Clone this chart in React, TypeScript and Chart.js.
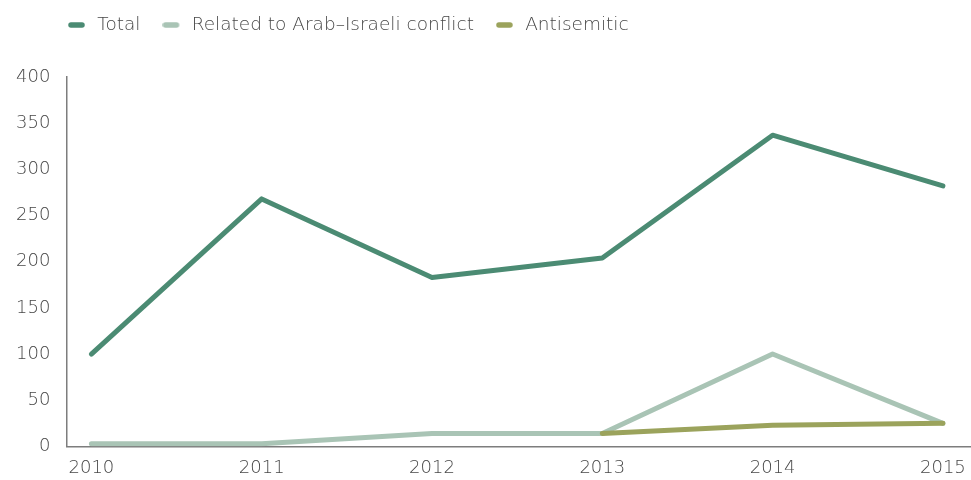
import React, { useEffect, useRef } from 'react';
import { Chart, registerables } from 'chart.js';

Chart.register(...registerables);

const years = [2010, 2011, 2012, 2013, 2014, 2015];
const total = [100, 268, 183, 204, 337, 282];
const related = [3, 3, 14, 14, 100, 25];
const antisemitic: (number | null)[] = [null, null, null, 14, 23, 25];
const seriesNames = ['Total', 'Related to Arab\u2013Israeli conflict', 'Antisemitic'];
const seriesColors = ['#4b8b73', '#a9c4b5', '#9ba35c'];

const FONT = '"DejaVu Sans", sans-serif';
const TEXT = '#474747';

const legendShift = {
  id: 'legendShift',
  afterLayout(chart: any) {
    const lg = chart.legend;
    if (!lg) return;
    const dx = 46 - lg.left;
    const dy = -6.25 - lg.top;
    lg.left += dx; lg.right += dx;
    lg.top += dy; lg.bottom += dy;
  },
};

function makeMarker(color: string) {
  const c = document.createElement('canvas');
  c.width = 20;
  c.height = 8;
  const g = c.getContext('2d')!;
  g.strokeStyle = color;
  g.lineWidth = 5.5;
  g.lineCap = 'round';
  g.beginPath();
  g.moveTo(3, 4);
  g.lineTo(14, 4);
  g.stroke();
  return c;
}

export default function App() {
  const ref = useRef<HTMLCanvasElement | null>(null);
  useEffect(() => {
    if (!ref.current) return;
    const pts = (arr: (number | null)[]) => years.map((y, i) => ({ x: y, y: arr[i] }));
    const common = { pointRadius: 0, borderWidth: 5, borderCapStyle: 'round', borderJoinStyle: 'round', tension: 0, fill: false };
    const tickFont = { family: FONT, size: 18, weight: '200' };
    const markers = seriesColors.map(makeMarker);
    const chart = new Chart(ref.current, {
      type: 'line',
      data: {
        datasets: [
          { label: seriesNames[0], data: pts(total), borderColor: seriesColors[0], backgroundColor: seriesColors[0], order: 0, pointStyle: markers[0], ...common } as any,
          { label: seriesNames[1], data: pts(related), borderColor: seriesColors[1], backgroundColor: seriesColors[1], order: 1, pointStyle: markers[1], ...common } as any,
          { label: seriesNames[2], data: pts(antisemitic), borderColor: seriesColors[2], backgroundColor: seriesColors[2], order: -1, pointStyle: markers[2], ...common } as any,
        ],
      },
      options: {
        animation: false,
        responsive: true,
        maintainAspectRatio: false,
        layout: { padding: { left: 0, right: 0, top: 26.5, bottom: -10 } },
        plugins: {
          tooltip: { enabled: false },
          legend: {
            position: 'top',
            align: 'start',
            labels: {
              usePointStyle: true,
              pointStyleWidth: 20,
              padding: 22,
              color: TEXT,
              font: { family: FONT, size: 18.5, weight: '200' },
              sort: (a: any, b: any) => a.datasetIndex - b.datasetIndex,
            },
          },
        },
        scales: {
          x: {
            type: 'linear',
            min: 2009.853,
            max: 2015.165,
            grid: { display: false, drawTicks: false },
            border: { display: true, color: '#7d7d7d', width: 1.5 },
            afterFit: (s: any) => { s.paddingRight = 0; s.paddingLeft = 0; },
            ticks: {
              stepSize: 1,
              includeBounds: false,
              padding: 11,
              color: TEXT,
              font: tickFont,
              callback: (v: any) => String(v),
              maxRotation: 0,
            },
          },
          y: {
            min: 0,
            max: 400,
            grid: { display: false, drawTicks: false },
            border: { display: true, color: '#7d7d7d', width: 1.5 },
            ticks: {
              stepSize: 50,
              padding: 16,
              color: TEXT,
              font: tickFont,
            },
          },
        },
      },
      plugins: [legendShift],
    } as any);
    return () => chart.destroy();
  }, []);
  return (
    <div style={{ position: 'absolute', left: 0, top: 0, width: 971, height: 480 }}>
      <canvas ref={ref} />
    </div>
  );
}
